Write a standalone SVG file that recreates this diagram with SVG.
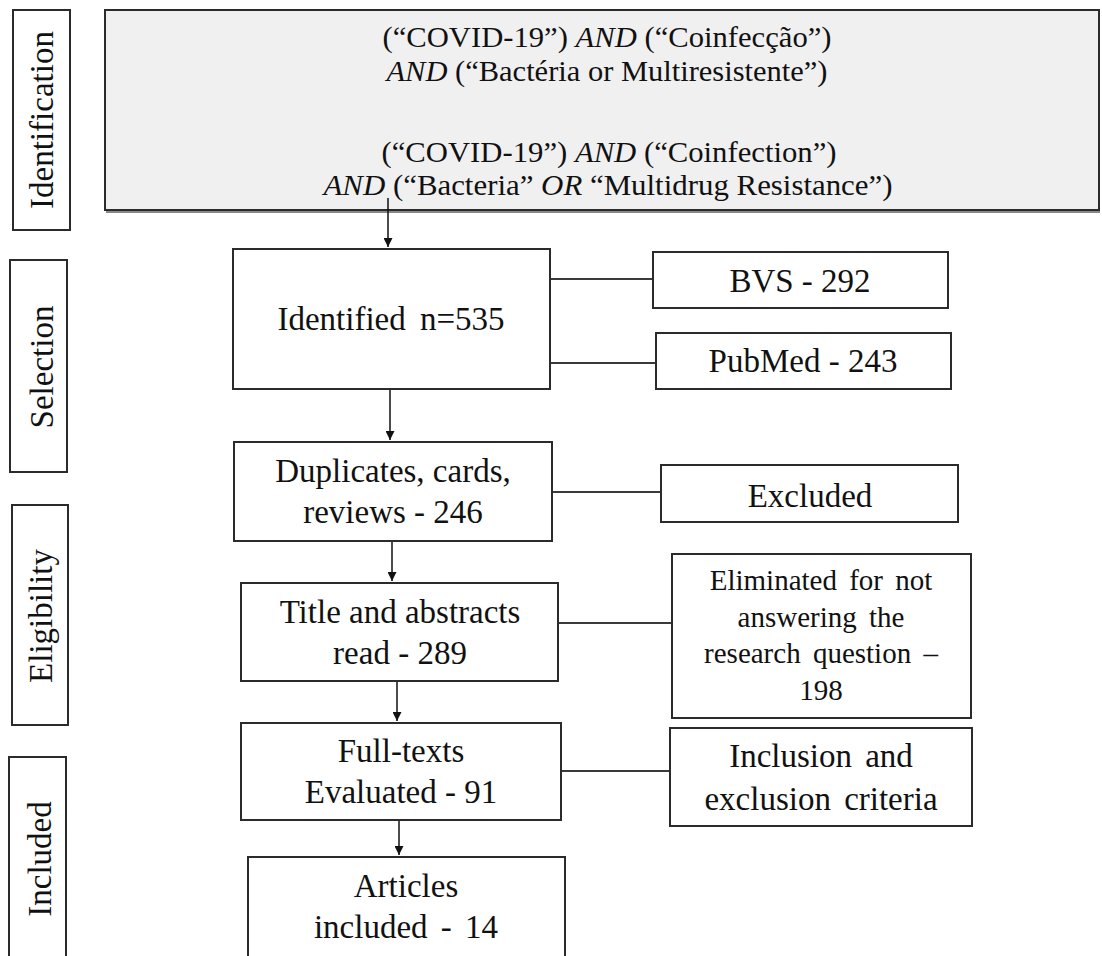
<svg xmlns="http://www.w3.org/2000/svg" width="1102" height="956" viewBox="0 0 1102 956">
<style>
  .box { fill: #ffffff; stroke: #2b2b2b; stroke-width: 2; }
  .lab { fill: #ffffff; stroke: #2b2b2b; stroke-width: 2; }
  .top { fill: #f0f0f0; stroke: #2b2b2b; stroke-width: 2; }
  .t { font-family: 'Liberation Serif', 'DejaVu Serif', 'Times New Roman', serif; fill: #111; text-anchor: middle; }
  .m { font-size: 33px; }
  .s { font-size: 29px; }
  .q { font-size: 29px; }
  .l { font-size: 33px; }
  .conn { stroke: #3a3a3a; stroke-width: 2; fill: none; }
  .arr { stroke: #111; stroke-width: 1.5; fill: none; marker-end: url(#ah); }
</style>
<defs>
  <marker id="ah" viewBox="0 0 10 10" refX="10" refY="5" markerWidth="9" markerHeight="9" markerUnits="userSpaceOnUse" orient="auto">
    <path d="M0,0 L10,5 L0,10 z" fill="#111"/>
  </marker>
</defs>
<rect width="1102" height="956" fill="#ffffff"/>

<g id="label-identification">
  <rect class="lab" x="13" y="10" width="57" height="220"/>
  <text class="t l" font-family="Liberation Serif, DejaVu Serif, serif" transform="translate(53,120) rotate(-90)">Identification</text>
</g>
<g id="label-selection">
  <rect class="lab" x="10" y="260" width="57" height="212"/>
  <text class="t l" font-family="Liberation Serif, DejaVu Serif, serif" transform="translate(53,367) rotate(-90)">Selection</text>
</g>
<g id="label-eligibility">
  <rect class="lab" x="12" y="505" width="56" height="220"/>
  <text class="t l" font-family="Liberation Serif, DejaVu Serif, serif" transform="translate(52,616) rotate(-90)">Eligibility</text>
</g>
<g id="label-included">
  <rect class="lab" x="9" y="757" width="57" height="210"/>
  <text class="t l" font-family="Liberation Serif, DejaVu Serif, serif" transform="translate(51,859) rotate(-90)">Included</text>
</g>

<g id="search">
  <line x1="106" y1="212" x2="1100" y2="212" stroke="#888" stroke-width="2"/>
  <rect class="top" x="105" y="10" width="994" height="200"/>
  <text class="t q" x="607" y="47" textLength="449" lengthAdjust="spacingAndGlyphs">(“COVID-19”) <tspan font-style="italic">AND</tspan> (“Coinfecção”)</text>
  <text class="t q" x="607" y="81" textLength="441" lengthAdjust="spacingAndGlyphs"><tspan font-style="italic">AND</tspan> (“Bactéria or Multiresistente”)</text>
  <text class="t q" x="609" y="162" textLength="455" lengthAdjust="spacingAndGlyphs">(“COVID-19”) <tspan font-style="italic">AND</tspan> (“Coinfection”)</text>
  <text class="t q" x="608" y="195" textLength="569" lengthAdjust="spacingAndGlyphs"><tspan font-style="italic">AND</tspan> (“Bacteria” <tspan font-style="italic">OR</tspan> “Multidrug Resistance”)</text>
</g>

<g id="connectors">
  <line class="arr" x1="388" y1="198" x2="388" y2="247"/>
  <line class="arr" x1="390" y1="389" x2="390" y2="440"/>
  <line class="arr" x1="392" y1="541" x2="392" y2="581"/>
  <line class="arr" x1="397" y1="681" x2="397" y2="721"/>
  <line class="arr" x1="399" y1="820" x2="399" y2="855"/>
  <line class="conn" x1="550" y1="279" x2="653" y2="279"/>
  <line class="conn" x1="550" y1="363" x2="656" y2="363"/>
  <line class="conn" x1="552" y1="492" x2="661" y2="492"/>
  <line class="conn" x1="558" y1="623" x2="672" y2="623"/>
  <line class="conn" x1="561" y1="771" x2="670" y2="771"/>
</g>

<g id="identified">
  <rect class="box" x="233" y="249" width="317" height="140"/>
  <text class="t m" x="391" y="330" word-spacing="6">Identified n=535</text>
</g>
<g id="bvs">
  <rect class="box" x="653" y="252" width="295" height="56"/>
  <text class="t m" x="800" y="292">BVS - 292</text>
</g>
<g id="pubmed">
  <rect class="box" x="656" y="333" width="295" height="56"/>
  <text class="t m" x="803" y="372">PubMed - 243</text>
</g>
<g id="duplicates">
  <rect class="box" x="234" y="442" width="318" height="99"/>
  <text class="t m" x="393" y="482">Duplicates, cards,</text>
  <text class="t m" x="393" y="523">reviews - 246</text>
</g>
<g id="excluded">
  <rect class="box" x="661" y="465" width="297" height="57"/>
  <text class="t m" x="810" y="507">Excluded</text>
</g>
<g id="title-abstracts">
  <rect class="box" x="241" y="583" width="317" height="98"/>
  <text class="t m" x="400" y="623">Title and abstracts</text>
  <text class="t m" x="400" y="664">read - 289</text>
</g>
<g id="eliminated">
  <rect class="box" x="672" y="554" width="299" height="164"/>
  <text class="t s" x="821" y="590" word-spacing="5">Eliminated for not</text>
  <text class="t s" x="821" y="627" word-spacing="5">answering the</text>
  <text class="t s" x="821" y="663" word-spacing="5">research question –</text>
  <text class="t s" x="821" y="700">198</text>
</g>
<g id="full-texts">
  <rect class="box" x="241" y="723" width="320" height="97"/>
  <text class="t m" x="401" y="762">Full-texts</text>
  <text class="t m" x="401" y="803">Evaluated - 91</text>
</g>
<g id="criteria">
  <rect class="box" x="670" y="728" width="302" height="98"/>
  <text class="t m" x="821" y="767" word-spacing="5">Inclusion and</text>
  <text class="t m" x="821" y="810" word-spacing="5">exclusion criteria</text>
</g>
<g id="articles">
  <rect class="box" x="248" y="857" width="317" height="110"/>
  <text class="t m" x="406" y="897">Articles</text>
  <text class="t m" x="406" y="938" word-spacing="5">included - 14</text>
</g>
</svg>
